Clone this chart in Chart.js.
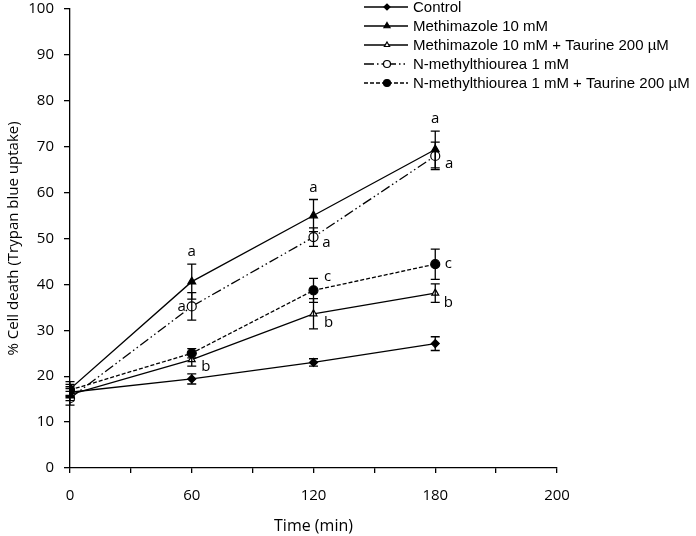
<!DOCTYPE html>
<html>
<head>
<meta charset="utf-8">
<script src="https://cdn.jsdelivr.net/npm/chart.js@4/dist/chart.umd.min.js"></script>
<style>
    html, body { margin: 0; padding: 0; background: #fff; }
    #wrap { width: 696px; height: 536px; }
</style>
</head>
<body>
<div id="wrap"><canvas id="chart"></canvas></div>
<script>
// 时间点（x 轴类别，等距排列）
const timeLabels = ['0', '60', '120', '180', '200'];

// 各组均值与误差
const controlMean = [16.5, 19.4, 23.0, 27.1];
const controlErr = [1.2, 1.1, 0.8, 1.5];
const methMean = [17.2, 40.6, 55.0, 69.4];
const methErr = [1.6, 3.8, 3.5, 4.0];
const methTauMean = [16.0, 23.6, 33.6, 38.1];
const methTauErr = [1.3, 1.4, 3.3, 2.0];
const nmtuMean = [15.2, 35.2, 50.3, 68.0];
const nmtuErr = [1.5, 3.0, 2.0, 3.0];
const nmtuTauMean = [17.0, 25.0, 38.7, 44.4];
const nmtuTauErr = [1.2, 1.0, 2.6, 3.3];

// 显著性字母
const methLetters = ['', 'a', 'a', 'a'];
const methTauLetters = ['', 'b', 'b', 'b'];
const nmtuLetters = ['', 'a', 'a', 'a'];
const nmtuTauLetters = ['', '', 'c', 'c'];

const seriesNames = [
    'Control',
    'Methimazole 10 mM',
    'Methimazole 10 mM + Taurine 200 µM',
    'N-methylthiourea 1 mM',
    'N-methylthiourea 1 mM + Taurine 200 µM'
];

const FONT = '"Open Sans", "Liberation Sans", sans-serif';

function toPoints(arr) {
    return arr.map((v, i) => ({ x: i, y: v }));
}

// 字母相对数据点的偏移（像素）
const letterOffsets = {
    meth: [null, [0, 'top'], [0, 'top'], [0, 'top']],
    methTau: [null, [14, 7], [15, 9], [13, 10]],
    nmtu: [null, [-10, 0], [13, 6], [14, 8]],
    nmtuTau: [null, null, [14, -14], [13, 0]]
};

const datasets = [
    { label: seriesNames[0], data: toPoints(controlMean), err: controlErr,
      borderDash: [], pointStyle: 'rectRot', pointRadius: 4, pointBackgroundColor: '#000' },
    { label: seriesNames[1], data: toPoints(methMean), err: methErr, letters: methLetters, key: 'meth',
      borderDash: [], pointStyle: 'triangle', pointRadius: 4.5, pointBackgroundColor: '#000' },
    { label: seriesNames[2], data: toPoints(methTauMean), err: methTauErr, letters: methTauLetters, key: 'methTau',
      borderDash: [], pointStyle: 'triangle', pointRadius: 4, pointBackgroundColor: '#fff' },
    { label: seriesNames[3], data: toPoints(nmtuMean), err: nmtuErr, letters: nmtuLetters, key: 'nmtu',
      borderDash: [10, 3, 1.5, 3, 1.5, 3], pointStyle: 'circle', pointRadius: 4.5, pointBackgroundColor: '#fff' },
    { label: seriesNames[4], data: toPoints(nmtuTauMean), err: nmtuTauErr, letters: nmtuTauLetters, key: 'nmtuTau',
      borderDash: [4, 2], pointStyle: 'circle', pointRadius: 4.5, pointBackgroundColor: '#000' }
].map(ds => Object.assign({
    borderColor: '#000',
    borderWidth: 1.3,
    pointBorderColor: '#000',
    pointBorderWidth: 1.2,
    tension: 0,
    fill: false
}, ds));

// 误差棒 + 字母
const errorBarPlugin = {
    id: 'errorBars',
    afterDatasetsDraw(chart) {
        const ctx = chart.ctx;
        const y = chart.scales.y;
        ctx.save();
        ctx.strokeStyle = '#000';
        ctx.lineWidth = 1.3;
        chart.data.datasets.forEach((ds, i) => {
            const meta = chart.getDatasetMeta(i);
            ds.data.forEach((p, j) => {
                const px = meta.data[j].x;
                const top = y.getPixelForValue(p.y + ds.err[j]);
                const bot = y.getPixelForValue(p.y - ds.err[j]);
                ctx.beginPath();
                ctx.moveTo(px, top); ctx.lineTo(px, bot);
                ctx.moveTo(px - 4.5, top); ctx.lineTo(px + 4.5, top);
                ctx.moveTo(px - 4.5, bot); ctx.lineTo(px + 4.5, bot);
                ctx.stroke();
            });
        });
        ctx.fillStyle = '#000';
        ctx.font = '15px ' + FONT;
        ctx.textAlign = 'center';
        ctx.textBaseline = 'middle';
        chart.data.datasets.forEach((ds, i) => {
            if (!ds.letters) return;
            const meta = chart.getDatasetMeta(i);
            ds.letters.forEach((t, j) => {
                const off = letterOffsets[ds.key][j];
                if (!t || !off) return;
                const px = meta.data[j].x;
                let py = meta.data[j].y;
                if (off[1] === 'top') {
                    py = y.getPixelForValue(ds.data[j].y + ds.err[j]) - 12;
                } else {
                    py += off[1];
                }
                ctx.fillText(t, px + off[0], py);
            });
        });
        ctx.restore();
    }
};

// 图例（线段中带标记）
const legendPlugin = {
    id: 'lineLegend',
    afterDraw(chart) {
        const ctx = chart.ctx;
        ctx.save();
        ctx.font = '15px "Liberation Sans", Arial, sans-serif';
        ctx.textBaseline = 'middle';
        chart.data.datasets.forEach((ds, i) => {
            const rowY = 7 + i * 19;
            ctx.strokeStyle = '#000';
            ctx.lineWidth = 1.3;
            ctx.setLineDash(ds.borderDash);
            ctx.beginPath();
            ctx.moveTo(364, rowY); ctx.lineTo(408, rowY);
            ctx.stroke();
            ctx.setLineDash([]);
            ctx.fillStyle = ds.pointBackgroundColor;
            ctx.lineWidth = 1.2;
            Chart.helpers.drawPoint(ctx, {
                pointStyle: ds.pointStyle,
                radius: ds.pointRadius - 1,
                borderWidth: 1.2,
                rotation: 0
            }, 387, rowY);
            ctx.fillStyle = '#000';
            ctx.fillText(ds.label, 413, rowY + 1);
        });
        ctx.restore();
    }
};

new Chart(document.getElementById('chart'), {
    type: 'line',
    data: { datasets },
    options: {
        responsive: true,
        maintainAspectRatio: false,
        animation: false,
        layout: { padding: { left: 0, right: 139, top: 9, bottom: 0 } },
        plugins: {
            legend: { display: false },
            tooltip: { enabled: false }
        },
        scales: {
            x: {
                type: 'linear',
                min: 0,
                max: 4,
                afterFit(scale) {
                    scale.height = 68;
                    scale.paddingLeft = 0;
                    scale.paddingRight = 0;
                },
                border: { color: '#000', width: 1.3 },
                grid: { drawOnChartArea: false, drawTicks: true, tickLength: 5, color: '#000', lineWidth: 1.3 },
                ticks: {
                    stepSize: 0.5,
                    autoSkip: false,
                    maxRotation: 0,
                    padding: 14,
                    color: '#000',
                    font: { family: FONT, size: 15 },
                    callback: v => (v % 1 === 0 ? timeLabels[v] : '')
                },
                title: {
                    display: true,
                    text: 'Time (min)',
                    color: '#000',
                    font: { family: FONT, size: 16 },
                    padding: { top: 0, bottom: 0 }
                }
            },
            y: {
                min: 0,
                max: 100,
                afterFit(scale) {
                    scale.width = 70;
                    scale.paddingTop = 0;
                    scale.paddingBottom = 0;
                },
                border: { color: '#000', width: 1.3 },
                grid: { drawOnChartArea: false, drawTicks: true, tickLength: 6, color: '#000', lineWidth: 1.3 },
                ticks: {
                    stepSize: 10,
                    padding: 10,
                    color: '#000',
                    font: { family: FONT, size: 15 }
                },
                title: {
                    display: true,
                    text: '% Cell death (Trypan blue uptake)',
                    color: '#000',
                    font: { family: FONT, size: 15 },
                    padding: { top: 5, bottom: 5 }
                }
            }
        }
    },
    plugins: [errorBarPlugin, legendPlugin]
});
</script>
</body>
</html>
